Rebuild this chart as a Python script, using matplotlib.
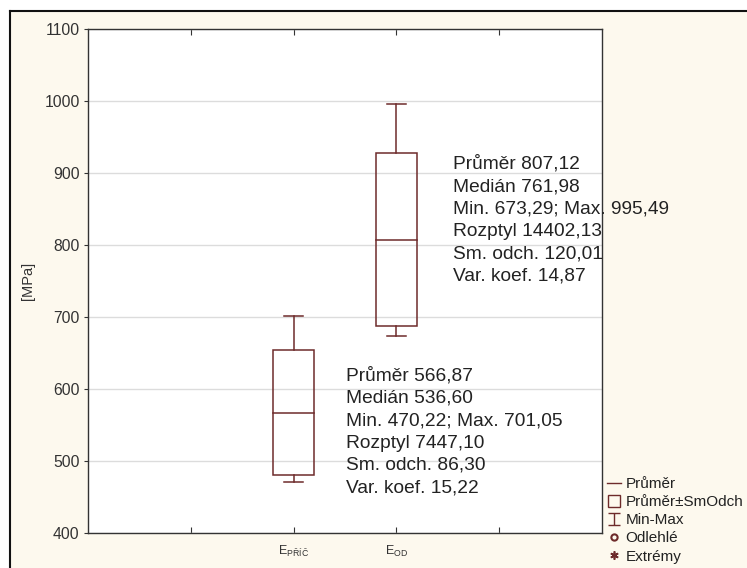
import matplotlib
matplotlib.use("Agg")
import matplotlib.pyplot as plt
from matplotlib.lines import Line2D
from matplotlib.patches import Rectangle
from matplotlib.path import Path

plt.rcParams['font.family'] = ['Liberation Sans', 'DejaVu Sans']

# ---- data ----
categories = [r"E$_{\mathregular{PŘÍČ}}$", r"E$_{\mathregular{OD}}$"]
positions = [2, 3]
means = [566.87, 807.12]
medians = [536.60, 761.98]
mins = [470.22, 673.29]
maxs = [701.05, 995.49]
variances = [7447.10, 14402.13]
sds = [86.30, 120.01]
cvs = [15.22, 14.87]
legend_labels = ["Průměr", "Průměr±SmOdch", "Min-Max", "Odlehlé", "Extrémy"]

col = "#6e2b2b"
bg = "#fdf9ee"

fig = plt.figure(figsize=(7.47, 5.68), dpi=100, facecolor="white")
# cream background panel with black border (left/top)
fig.patches.append(Rectangle((10/747, 0), 1, 1 - 11/568, transform=fig.transFigure,
                             facecolor=bg, edgecolor="none", zorder=-10))
fig.add_artist(Line2D([10/747, 10/747], [0, 1 - 11/568], transform=fig.transFigure,
                      color="#111111", lw=1.5))
fig.add_artist(Line2D([10/747, 1], [1 - 11/568, 1 - 11/568], transform=fig.transFigure,
                      color="#111111", lw=1.5))

ax = fig.add_axes([88/747, 1 - 532.7/568, (602-88)/747, (532.7-28.7)/568])
ax.set_facecolor("white")
ax.set_xlim(0, 5)
ax.set_ylim(400, 1100)
ax.set_yticks(range(400, 1101, 100))
ax.yaxis.grid(True, color="#dcdcdc", lw=1)
ax.set_axisbelow(True)
for s in ax.spines.values():
    s.set_color("#333333")
    s.set_linewidth(1.0)

box_w = 0.4
cap_w = 0.19
for p, m, s, lo, hi in zip(positions, means, sds, mins, maxs):
    ax.add_patch(Rectangle((p - box_w/2, m - s), box_w, 2*s, facecolor="none",
                           edgecolor=col, lw=1.1, zorder=3))
    ax.plot([p - box_w/2, p + box_w/2], [m, m], color=col, lw=1.1, zorder=3)
    ax.plot([p, p], [m + s, hi], color=col, lw=1.1, zorder=3)
    ax.plot([p, p], [m - s, lo], color=col, lw=1.1, zorder=3)
    ax.plot([p - cap_w/2, p + cap_w/2], [hi, hi], color=col, lw=1.1, zorder=3)
    ax.plot([p - cap_w/2, p + cap_w/2], [lo, lo], color=col, lw=1.1, zorder=3)

def fmt(v):
    return f"{v:.2f}".replace(".", ",")

text_pos = [(2.51, 630), (3.55, 924)]
for i, (tx, ty) in enumerate(text_pos):
    txt = (f"Průměr {fmt(means[i])}\nMedián {fmt(medians[i])}\n"
           f"Min. {fmt(mins[i])}; Max. {fmt(maxs[i])}\nRozptyl {fmt(variances[i])}\n"
           f"Sm. odch. {fmt(sds[i])}\nVar. koef. {fmt(cvs[i])}")
    ax.text(tx, ty, txt, fontsize=13.8, color="#222222", va="top", ha="left",
            linespacing=1.41, zorder=4, clip_on=False)

ax.set_xticks([1, 2, 3, 4])
ax.set_xticklabels(["", categories[0], categories[1], ""], fontsize=9, color="#333333")
ax.tick_params(axis="x", direction="in", length=4, top=True, color="#333333", pad=8)
ax.tick_params(axis="y", direction="out", length=3, labelsize=11.3, pad=3,
               labelcolor="#333333", color="#333333")
ax.set_ylabel("[MPa]", fontsize=10.5, color="#333333")
ax.yaxis.set_label_coords(-(88 - 35) / 514, 0.5)

# legend
ibeam = Path([(-1, 1), (1, 1), (0, 1), (0, -1), (-1, -1), (1, -1)],
             [Path.MOVETO, Path.LINETO, Path.MOVETO, Path.LINETO, Path.MOVETO, Path.LINETO])
handles = [
    Line2D([], [], color=col, lw=1.0),
    Line2D([], [], color=col, marker="s", markersize=9, markerfacecolor="none",
           markeredgewidth=1.0, ls="none"),
    Line2D([], [], color=col, marker=ibeam, markersize=9, markerfacecolor="none",
           markeredgewidth=1.0, ls="none"),
    Line2D([], [], color=col, marker="o", markersize=4.5, markerfacecolor="none",
           markeredgewidth=1.5, ls="none"),
    Line2D([], [], color=col, marker=(6, 2, 0), markersize=6, markeredgewidth=1.2,
           ls="none"),
]
fig.legend(handles, legend_labels, loc="upper left", bbox_to_anchor=(607/747, 1 - 477/568),
           frameon=False, fontsize=11, handlelength=0.9, handletextpad=0.3,
           labelspacing=0.27, borderpad=0, borderaxespad=0, labelcolor="#222222")

fig.savefig("out.png", dpi=100, facecolor="white")
